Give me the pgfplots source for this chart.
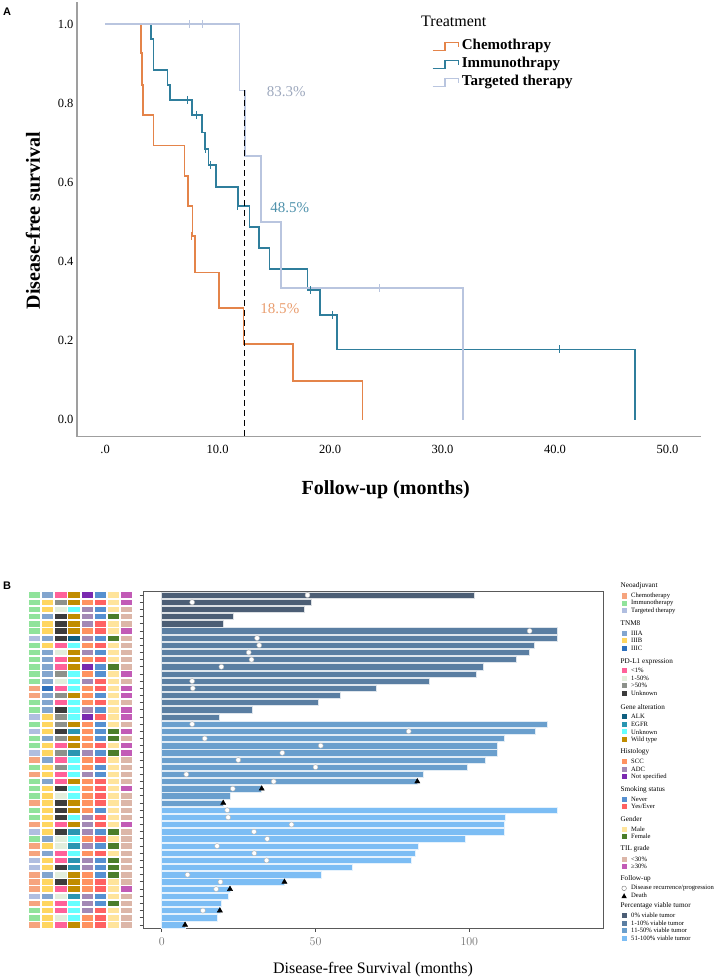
\documentclass[border=0pt]{standalone}
\usepackage{fontspec}
\setmainfont{Liberation Serif}
\setsansfont{Liberation Sans}
\usepackage{pgfplots}
\usepackage{pgfplotstable}
\pgfplotsset{compat=1.18}

% KM colours
\definecolor{chemo}{HTML}{E4844A}
\definecolor{immuno}{HTML}{2F7E9C}
\definecolor{target}{HTML}{B9C5DF}
% viable tumour groups
\definecolor{vA}{HTML}{4C5E75}
\definecolor{vB}{HTML}{5A7EA2}
\definecolor{vC}{HTML}{6A9FCD}
\definecolor{vD}{HTML}{7CBDF4}
% heatmap colours
\definecolor{nC}{HTML}{F6A47E}
\definecolor{nI}{HTML}{90E39B}
\definecolor{nT}{HTML}{B0BEE0}
\definecolor{tA}{HTML}{82A5CE}
\definecolor{tB}{HTML}{FFD660}
\definecolor{tC}{HTML}{2E70BC}
\definecolor{pL}{HTML}{FF6199}
\definecolor{pM}{HTML}{E3EEDC}
\definecolor{pH}{HTML}{8D918B}
\definecolor{pU}{HTML}{3C3C3C}
\definecolor{gA}{HTML}{0F5F80}
\definecolor{gE}{HTML}{2A95B1}
\definecolor{gU}{HTML}{66FFFF}
\definecolor{gW}{HTML}{C08C00}
\definecolor{hS}{HTML}{FF9260}
\definecolor{hA}{HTML}{A388B5}
\definecolor{hN}{HTML}{7B2AB0}
\definecolor{sN}{HTML}{5690D0}
\definecolor{sY}{HTML}{FF6262}
\definecolor{xM}{HTML}{FFE49B}
\definecolor{xF}{HTML}{4B7D2A}
\definecolor{iL}{HTML}{DCB6A8}
\definecolor{iH}{HTML}{C25BB6}

\pgfdeclareplotmark{cell}{%
  \pgfpathrectangle{\pgfqpoint{-6.15pt}{-3.2pt}}{\pgfqpoint{12.3pt}{6.4pt}}%
  \pgfusepathqfillstroke}

% clinical features, one row per patient (top to bottom)
\pgfplotstableread{
N  T  P  G  H  S  X  I
nI tA pL gW hN sN xM iH
nI tB pH gW hS sY xM iH
nI tB pM gU hA sN xM iL
nI tA pU gW hA sN xF iL
nI tB pU gW hA sY xM iL
nI tB pU gW hS sY xM iH
nT tA pU gA hA sN xF iL
nI tB pL gU hS sY xM iL
nI tA pM gW hA sN xM iL
nI tA pL gW hS sY xM iL
nI tA pL gW hN sN xF iL
nI tA pH gU hS sN xM iH
nI tA pM gU hA sY xM iL
nC tC pL gU hS sY xM iH
nC tA pH gW hS sN xM iH
nI tA pL gU hS sY xM iL
nI tA pU gU hA sN xM iH
nT tB pH gU hN sY xM iH
nI tB pH gW hS sN xM iL
nT tB pU gE hS sN xF iH
nI tA pH gW hS sN xF iL
nI tB pL gW hS sY xM iH
nT tB pH gE hA sN xF iH
nC tA pL gU hS sY xM iL
nI tB pH gU hS sN xM iL
nC tB pL gU hA sN xM iL
nI tA pL gW hS sY xM iL
nI tB pU gU hS sY xM iH
nI tB pM gU hS sY xM iL
nC tB pU gW hS sY xM iL
nI tB pU gW hS sN xM iL
nI tB pU gU hA sY xM iL
nC tB pL gW hA sY xM iH
nT tB pU gE hA sN xF iL
nI tA pM gU hS sY xM iL
nC tB pM gE hA sN xF iL
nC tA pL gU hS sY xM iL
nT tB pL gE hA sN xF iL
nT tB pU gE hA sN xF iL
nC tA pM gW hS sN xF iL
nC tB pU gW hS sY xM iL
nC tB pL gW hS sY xM iH
nT tA pM gE hA sN xM iL
nC tB pL gU hA sN xF iL
nI tB pL gU hA sY xM iL
nI tB pM gU hS sY xM iL
nC tB pL gW hS sY xM iL
}\heat

\newcommand{\lgT}[2]{\node[anchor=west,inner sep=0pt,font=\fontsize{7.2}{8}\selectfont] at (620.5pt,#1pt) {#2};}
\newcommand{\lgE}[3]{\fill[#2] (621.5pt,{#1pt-2.6pt}) rectangle ++(5.2pt,5.2pt);
  \node[anchor=west,inner sep=0pt,font=\fontsize{6.6}{7}\selectfont] at (631pt,#1pt) {#3};}

\begin{document}
\begin{tikzpicture}
\path[use as bounding box] (0,0) rectangle (725pt,979pt);

%% ---------------- panel A ----------------
\begin{axis}[
  at={(77pt,542.2pt)}, anchor=south west, scale only axis,
  width=624.25pt, height=434.3pt,
  xmin=-2.5, xmax=53, ymin=-0.043, ymax=1.055,
  axis lines=left,
  axis line style={-, draw=gray!75, line width=1.3pt},
  xtick={0,10,20,30,40,50},
  xticklabels={.0,10.0,20.0,30.0,40.0,50.0},
  ytick={0,0.2,0.4,0.6,0.8,1},
  yticklabels={0.0,0.2,0.4,0.6,0.8,1.0},
  major tick length=0pt,
  tick label style={font=\fontsize{12.5}{14}\selectfont},
  xticklabel style={yshift=-5pt},
  clip=false,
]
\addplot[const plot, chemo, line width=1.6pt] coordinates {
  (0,1) (3.17,0.927) (3.26,0.847) (3.35,0.771) (4.3,0.693) (7.05,0.617)
  (7.35,0.541) (7.76,0.465) (8.0,0.372) (10.13,0.282) (12.3,0.191)
  (16.7,0.098) (22.9,0)};
\addplot[const plot, immuno, line width=1.6pt] coordinates {
  (0,1) (4.09,0.962) (4.3,0.884) (5.54,0.846) (5.78,0.809) (7.73,0.771)
  (8.6,0.726) (8.9,0.684) (9.19,0.644) (9.84,0.589) (11.8,0.541)
  (12.83,0.488) (13.7,0.434) (14.6,0.381) (18.0,0.328) (19.1,0.265)
  (20.6,0.178) (47.1,0)};
\addplot[const plot, target, line width=1.5pt] coordinates {
  (0,1) (11.94,0.833) (12.45,0.667) (13.84,0.5) (15.64,0.333) (31.8,0)};
% censored
\addplot[only marks, mark=|, mark size=4pt, target, line width=1pt] coordinates {
  (7.5,1) (8.7,1) (24.4,0.333)};
\addplot[only marks, mark=|, mark size=4pt, immuno, line width=1pt] coordinates {
  (7.35,0.809) (8.15,0.771) (8.95,0.684) (9.4,0.644) (11.8,0.541)
  (18.3,0.328) (20.2,0.265) (40.4,0.178)};
\addplot[only marks, mark=|, mark size=4pt, chemo, line width=1pt] coordinates {
  (7.7,0.465)};
% 1-year line
\addplot[black, line width=1.6pt, dash pattern=on 6pt off 4pt] coordinates {
  (12.4,0.833) (12.4,-0.043)};
\node[anchor=west, text=target!85!black, font=\fontsize{15}{17}\selectfont] at (axis cs:14.07,0.829) {83.3\%};
\node[anchor=west, text=immuno!85!white, font=\fontsize{15}{17}\selectfont] at (axis cs:14.37,0.537) {48.5\%};
\node[anchor=west, text=chemo!80!white, font=\fontsize{15}{17}\selectfont] at (axis cs:13.5,0.280) {18.5\%};
\end{axis}

\node[rotate=90, font=\bfseries\fontsize{20}{22}\selectfont] at (33pt,758.2pt) {Disease-free survival};
\node[anchor=west, font=\bfseries\fontsize{20}{22}\selectfont] at (298pt,489pt) {Follow-up (months)};
\node[font=\sffamily\bfseries\fontsize{11}{12}\selectfont] at (7pt,967.5pt) {A};

% legend A
\node[anchor=west, inner sep=0pt, font=\fontsize{16}{18}\selectfont] at (421pt,957.3pt) {Treatment};
\foreach \yy/\cc/\lab in {933/chemo/Chemothrapy, 915/immuno/Immunothrapy, 897/target/Targeted therapy}{
  \draw[\cc, line width=1.3pt] (432.7pt,\yy pt-4.7pt) -- (445pt,\yy pt-4.7pt) -- (445pt,\yy pt+3.3pt) -- (458.3pt,\yy pt+3.3pt) -- (458.3pt,\yy pt-0.7pt);
  \node[anchor=west, inner sep=0pt, font=\bfseries\fontsize{15}{17}\selectfont] at (461.7pt,\yy pt) {\lab};
}

%% ---------------- panel B heatmap ----------------
\begin{axis}[
  at={(28pt,50.5pt)}, anchor=south west, scale only axis,
  width=105pt, height=337pt,
  xmin=0.5, xmax=8.5, ymin=0.5, ymax=47.5, y dir=reverse,
  hide axis, clip=false,
  scatter/classes={
    nC={mark=cell,draw=white,fill=nC}, nI={mark=cell,draw=white,fill=nI}, nT={mark=cell,draw=white,fill=nT},
    tA={mark=cell,draw=white,fill=tA}, tB={mark=cell,draw=white,fill=tB}, tC={mark=cell,draw=white,fill=tC},
    pL={mark=cell,draw=white,fill=pL}, pM={mark=cell,draw=white,fill=pM}, pH={mark=cell,draw=white,fill=pH}, pU={mark=cell,draw=white,fill=pU},
    gA={mark=cell,draw=white,fill=gA}, gE={mark=cell,draw=white,fill=gE}, gU={mark=cell,draw=white,fill=gU}, gW={mark=cell,draw=white,fill=gW},
    hS={mark=cell,draw=white,fill=hS}, hA={mark=cell,draw=white,fill=hA}, hN={mark=cell,draw=white,fill=hN},
    sN={mark=cell,draw=white,fill=sN}, sY={mark=cell,draw=white,fill=sY},
    xM={mark=cell,draw=white,fill=xM}, xF={mark=cell,draw=white,fill=xF},
    iL={mark=cell,draw=white,fill=iL}, iH={mark=cell,draw=white,fill=iH}},
]
\addplot[scatter, only marks, point meta=explicit symbolic, line width=0.8pt] table[x expr=1, y expr=\coordindex+1, meta=N] {\heat};
\addplot[scatter, only marks, point meta=explicit symbolic, line width=0.8pt] table[x expr=2, y expr=\coordindex+1, meta=T] {\heat};
\addplot[scatter, only marks, point meta=explicit symbolic, line width=0.8pt] table[x expr=3, y expr=\coordindex+1, meta=P] {\heat};
\addplot[scatter, only marks, point meta=explicit symbolic, line width=0.8pt] table[x expr=4, y expr=\coordindex+1, meta=G] {\heat};
\addplot[scatter, only marks, point meta=explicit symbolic, line width=0.8pt] table[x expr=5, y expr=\coordindex+1, meta=H] {\heat};
\addplot[scatter, only marks, point meta=explicit symbolic, line width=0.8pt] table[x expr=6, y expr=\coordindex+1, meta=S] {\heat};
\addplot[scatter, only marks, point meta=explicit symbolic, line width=0.8pt] table[x expr=7, y expr=\coordindex+1, meta=X] {\heat};
\addplot[scatter, only marks, point meta=explicit symbolic, line width=0.8pt] table[x expr=8, y expr=\coordindex+1, meta=I] {\heat};
\end{axis}

%% ---------------- panel B swimmer bars ----------------
\begin{axis}[
  at={(143pt,50.5pt)}, anchor=south west, scale only axis,
  width=460pt, height=337pt,
  xmin=-6.08, xmax=143.46, ymin=0.5, ymax=47.5, y dir=reverse,
  axis line style={draw=black!65, line width=0.9pt},
  xtick={0,50,100}, ytick={1,...,47}, yticklabels={},
  tick align=outside, major tick length=3.5pt,
  tick style={black!70, line width=0.8pt},
  xtick pos=bottom, ytick pos=left,
  xticklabel style={font=\sffamily\fontsize{13}{15}\selectfont, text=black!55, yshift=-2pt},
  clip=false,
]
\addplot[xbar, bar shift=0pt, bar width=6.3pt, fill=vA, draw=white!80!vA, line width=0.6pt] coordinates {
  (101.7,1) (48.6,2) (46.2,3) (23.3,4) (19.9,5)};
\addplot[xbar, bar shift=0pt, bar width=6.3pt, fill=vB, draw=white!80!vB, line width=0.6pt] coordinates {
  (128.5,6) (128.5,7) (121,8) (119.4,9) (115.4,10) (104.6,11) (102.4,12)
  (87.1,13) (69.8,14) (57.9,15) (50.9,16) (29.6,17) (18.6,18)};
\addplot[xbar, bar shift=0pt, bar width=6.3pt, fill=vC, draw=white!80!vC, line width=0.6pt] coordinates {
  (125.3,19) (121.3,20) (111.4,21) (109,22) (109,23) (105.3,24) (99.3,25)
  (85,26) (83.1,27) (32.5,28) (22.3,29) (20,30)};
\addplot[xbar, bar shift=0pt, bar width=6.3pt, fill=vD, draw=white!80!vD, line width=0.6pt] coordinates {
  (128.5,31) (111.7,32) (111.4,33) (111.4,34) (98.7,35) (83.4,36) (82.4,37)
  (81.1,38) (61.8,39) (51.8,40) (39.9,41) (22.2,42) (21.5,43) (19.3,44)
  (18.9,45) (18,46) (7.6,47)};
% recurrence / progression
\addplot[only marks, mark=*, mark size=2.5pt, mark options={fill=white, draw=black!30, line width=0.4pt}] coordinates {
  (47.4,1) (9.9,2) (119.6,6) (31,7) (31.7,8) (28.3,9) (29.2,10) (19.4,11)
  (9.9,13) (10.1,14) (9.9,19) (80.3,20) (14,21) (51.7,22) (39.2,23) (24.9,24)
  (50,25) (8,26) (36.4,27) (23.1,28) (21.3,31) (21.6,32) (42.2,33) (30,34)
  (34.3,35) (18,36) (30.1,37) (34.1,38) (8.4,40) (19.1,41) (17.7,42) (13.4,45)};
% death
\addplot[only marks, mark=triangle*, mark size=3pt, black] coordinates {
  (83.1,27) (32.5,28) (20,30) (39.9,41) (22.2,42) (18.9,45) (7.6,47)};
\end{axis}

\node[font=\fontsize{16}{18}\selectfont] at (373pt,9pt) {Disease-free Survival (months)};
\node[font=\sffamily\bfseries\fontsize{11}{12}\selectfont] at (7pt,393pt) {B};

% legend B
\lgT{393}{Neoadjuvant}
\lgE{383}{nC}{Chemotherapy}
\lgE{375.6}{nI}{Immunotherapy}
\lgE{368.2}{nT}{Targeted therapy}
\lgT{355.7}{TNM8}
\lgE{345.7}{tA}{IIIA}
\lgE{338.2}{tB}{IIIB}
\lgE{330.7}{tC}{IIIC}
\lgT{317.3}{PD-L1 expression}
\lgE{308.3}{pL}{<1\%}
\lgE{300.8}{pM}{1-50\%}
\lgE{293.2}{pH}{>50\%}
\lgE{285.6}{pU}{Unknown}
\lgT{271.7}{Gene alteration}
\lgE{262.3}{gA}{ALK}
\lgE{254.7}{gE}{EGFR}
\lgE{247.1}{gU}{Unknown}
\lgE{239.5}{gW}{Wild type}
\lgT{227.3}{Histology}
\lgE{217.3}{hS}{SCC}
\lgE{209.8}{hA}{ADC}
\lgE{202.3}{hN}{Not specified}
\lgT{189.7}{Smoking status}
\lgE{179.7}{sN}{Never}
\lgE{172.3}{sY}{Yes/Ever}
\lgT{159.7}{Gender}
\lgE{149.7}{xM}{Male}
\lgE{142.3}{xF}{Female}
\lgT{130}{TIL grade}
\lgE{119.7}{iL}{<30\%}
\lgE{112.3}{iH}{≥30\%}
\lgT{100}{Follow-up}
\draw[black!55, fill=white, line width=0.4pt] (624.1pt,90.7pt) circle (2.3pt);
\node[anchor=west,inner sep=0pt,font=\fontsize{6.6}{7}\selectfont] at (631pt,90.7pt) {Disease recurrence/progression};
\fill[black] (621.4pt,80.8pt) -- (626.8pt,80.8pt) -- (624.1pt,85.8pt) -- cycle;
\node[anchor=west,inner sep=0pt,font=\fontsize{6.6}{7}\selectfont] at (631pt,83.3pt) {Death};
\lgT{73.3}{Percentage viable tumor}
\lgE{63.3}{vA}{0\% viable tumor}
\lgE{55.8}{vB}{1-10\% viable tumor}
\lgE{48.3}{vC}{11-50\% viable tumor}
\lgE{40.8}{vD}{51-100\% viable tumor}
\end{tikzpicture}
\end{document}
